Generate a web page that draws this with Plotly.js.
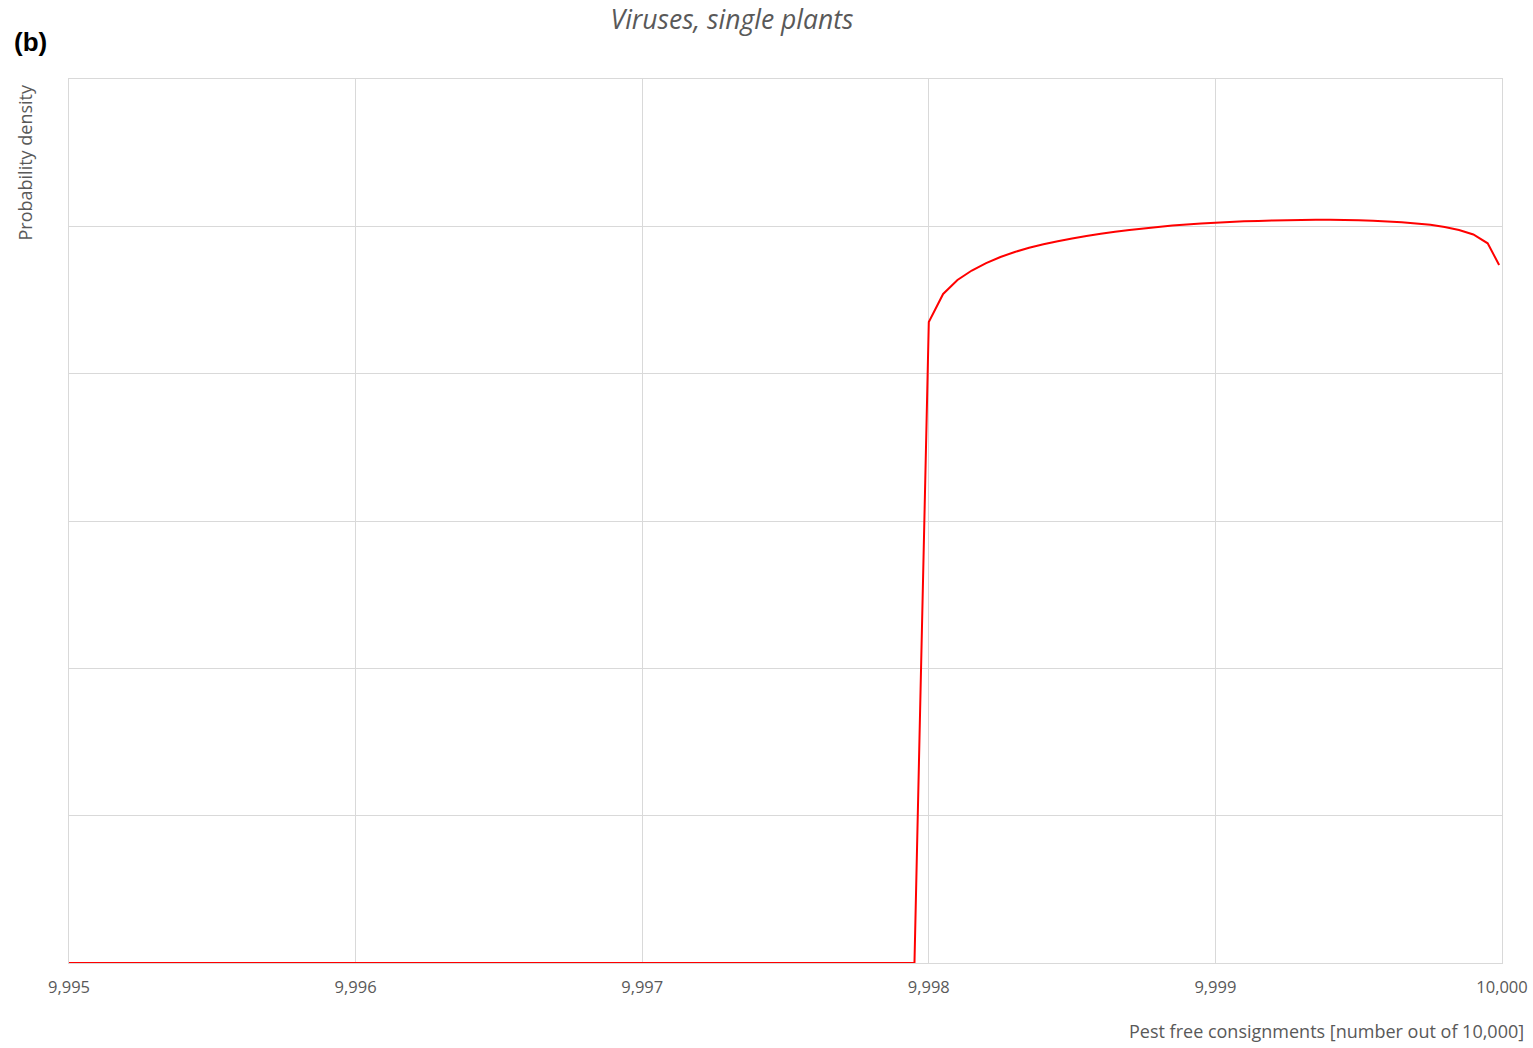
<!DOCTYPE html>
<html>
<head>
<meta charset="utf-8">
<script src="https://cdn.plot.ly/plotly-3.0.1.min.js"></script>
<style>html,body{margin:0;padding:0;background:#fff;}#chart{width:1533px;height:1048px;}</style>
</head>
<body>
<div id="chart"></div>
<script>
// Pest free consignments (number out of 10,000)
const consignments = [
  9995.00, 9997.95,
  9998.00, 9998.05, 9998.10, 9998.15, 9998.20, 9998.25, 9998.30, 9998.35, 9998.40, 9998.45,
  9998.50, 9998.55, 9998.60, 9998.65, 9998.70, 9998.75, 9998.80, 9998.85, 9998.90, 9998.95,
  9999.00, 9999.05, 9999.10, 9999.15, 9999.20, 9999.25, 9999.30, 9999.35, 9999.40, 9999.45,
  9999.50, 9999.55, 9999.60, 9999.65, 9999.70, 9999.75, 9999.80, 9999.85, 9999.90, 9999.95,
  9999.99
];
// Probability density (arbitrary units; axis unlabelled)
const density = [
  0, 0,
  4.351, 4.541, 4.636, 4.700, 4.750, 4.792, 4.826, 4.854, 4.878, 4.899,
  4.918, 4.935, 4.950, 4.963, 4.975, 4.986, 4.996, 5.005, 5.013, 5.020,
  5.025, 5.030, 5.034, 5.037, 5.040, 5.042, 5.043, 5.044, 5.044, 5.043,
  5.041, 5.038, 5.033, 5.027, 5.019, 5.010, 4.996, 4.975, 4.945, 4.885,
  4.738
];
const xTicks = [9995, 9996, 9997, 9998, 9999, 10000];
const xTickLabels = ["9,995", "9,996", "9,997", "9,998", "9,999", "10,000"];
const yTicks = [0, 1, 2, 3, 4, 5, 6];

const FONT = "'Open Sans', 'Noto Sans', sans-serif";
const GRAY = "#595959";
const GRID = "#d9d9d9";

const trace = {
  x: consignments,
  y: density,
  type: "scatter",
  mode: "lines",
  line: { color: "#ff0000", width: 2, simplify: false, shape: "linear" },
  hoverinfo: "x+y"
};

const W = 1533, H = 1048, L = 69, R = 31, T = 79, B = 85;
const pw = W - L - R, ph = H - T - B;

const layout = {
  width: W, height: H,
  margin: { l: L, r: R, t: T, b: B, pad: 0 },
  paper_bgcolor: "#ffffff",
  plot_bgcolor: "#ffffff",
  showlegend: false,
  font: { family: FONT, color: GRAY },
  title: {
    text: "<i>Viruses, single plants</i>",
    font: { family: FONT, size: 26.5, color: GRAY },
    x: 732 / W, xanchor: "center", xref: "container",
    y: 1 - 20 / H, yanchor: "middle", yref: "container"
  },
  xaxis: {
    range: [9995, 10000],
    tickvals: xTicks,
    ticktext: xTickLabels,
    ticks: "",
    ticklabelstandoff: 9,
    tickfont: { family: FONT, size: 16.5, color: GRAY },
    showgrid: true, gridcolor: GRID, gridwidth: 1,
    zeroline: false,
    showline: true, linecolor: GRID, linewidth: 1, mirror: true
  },
  yaxis: {
    range: [0, 6],
    tickvals: yTicks,
    showticklabels: false,
    ticks: "",
    showgrid: true, gridcolor: GRID, gridwidth: 1,
    zeroline: false,
    showline: true, linecolor: GRID, linewidth: 1, mirror: true
  },
  annotations: [
    {
      text: "<b>(b)</b>", xref: "paper", yref: "paper",
      x: (12 - L) / pw, xanchor: "left",
      y: 1 + (T - 42) / ph, yanchor: "middle",
      showarrow: false, font: { family: "Liberation Sans, Arial, sans-serif", size: 26, color: "#000000" }
    },
    {
      text: "Probability density", xref: "paper", yref: "paper",
      x: (24 - L) / pw, xanchor: "center",
      y: 1 - (162.5 - T) / ph, yanchor: "middle",
      textangle: -90,
      showarrow: false, font: { family: FONT, size: 18, color: GRAY }
    },
    {
      text: "Pest free consignments [number out of 10,000]", xref: "paper", yref: "paper",
      x: (1526 - L) / pw, xanchor: "right",
      y: -(1031 - (T + ph)) / ph, yanchor: "middle",
      showarrow: false, font: { family: FONT, size: 18, color: GRAY }
    }
  ]
};

Plotly.newPlot("chart", [trace], layout, { displayModeBar: false, staticPlot: true });
</script>
</body>
</html>
